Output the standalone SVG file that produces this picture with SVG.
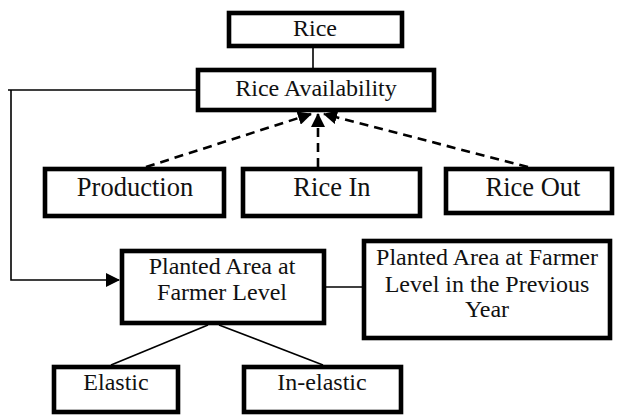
<svg xmlns="http://www.w3.org/2000/svg" width="619" height="417" viewBox="0 0 619 417">
<style>
.box{fill:#fff;stroke:#000;stroke-width:4.6}
.t{font-family:"Liberation Serif","Times New Roman",serif;font-size:24px;fill:#111;text-anchor:middle}
.m{font-size:26.5px}
.ln{fill:none;stroke:#000;stroke-width:1.6}
.dash{fill:none;stroke:#000;stroke-width:2.6;stroke-dasharray:9 6}
</style>
<defs>
<marker id="ah" markerUnits="userSpaceOnUse" markerWidth="14" markerHeight="14" viewBox="0 0 14 14" refX="13" refY="7" orient="auto">
<path d="M0,0 L14,7 L0,14 Z" fill="#000"/>
</marker>
</defs>
<g id="connectors">
<line class="ln" x1="313" y1="48" x2="313" y2="68"/>
<path class="ln" d="M196,90 H8 M11,90 V280 H119" marker-end="url(#ah)"/>
<line class="ln" x1="325" y1="287" x2="362" y2="287"/>
<line class="ln" x1="208" y1="325" x2="111" y2="365"/>
<line class="ln" x1="219" y1="325" x2="323" y2="365"/>
<line class="dash" x1="146" y1="167" x2="311" y2="114" marker-end="url(#ah)"/>
<line class="dash" x1="318" y1="167" x2="318" y2="114" marker-end="url(#ah)"/>
<line class="dash" x1="528" y1="167" x2="324" y2="114" marker-end="url(#ah)"/>
</g>
<g id="rice"><rect class="box" x="229" y="13" width="173" height="33"/><text class="t" x="315" y="36">Rice</text></g>
<g id="rice-availability"><rect class="box" x="198" y="70" width="236" height="40"/><text class="t" x="316" y="96">Rice Availability</text></g>
<g id="production"><rect class="box" x="45" y="169" width="179" height="47"/><text class="t m" x="135" y="196">Production</text></g>
<g id="rice-in"><rect class="box" x="243" y="169" width="177" height="47"/><text class="t m" x="332" y="196">Rice In</text></g>
<g id="rice-out"><rect class="box" x="446" y="169" width="166" height="44"/><text class="t m" x="533" y="196">Rice Out</text></g>
<g id="planted-area"><rect class="box" x="122" y="251" width="202" height="72"/><text class="t" x="222" y="274">Planted Area at</text><text class="t" x="222" y="300">Farmer Level</text></g>
<g id="planted-area-previous"><rect class="box" x="364" y="241" width="246" height="97"/><text class="t" x="487" y="265">Planted Area at Farmer</text><text class="t" x="487" y="292">Level in the Previous</text><text class="t" x="487" y="317">Year</text></g>
<g id="elastic"><rect class="box" x="54" y="367" width="124" height="45"/><text class="t" x="116" y="390">Elastic</text></g>
<g id="in-elastic"><rect class="box" x="244" y="367" width="157" height="45"/><text class="t" x="322" y="390">In-elastic</text></g>
</svg>
